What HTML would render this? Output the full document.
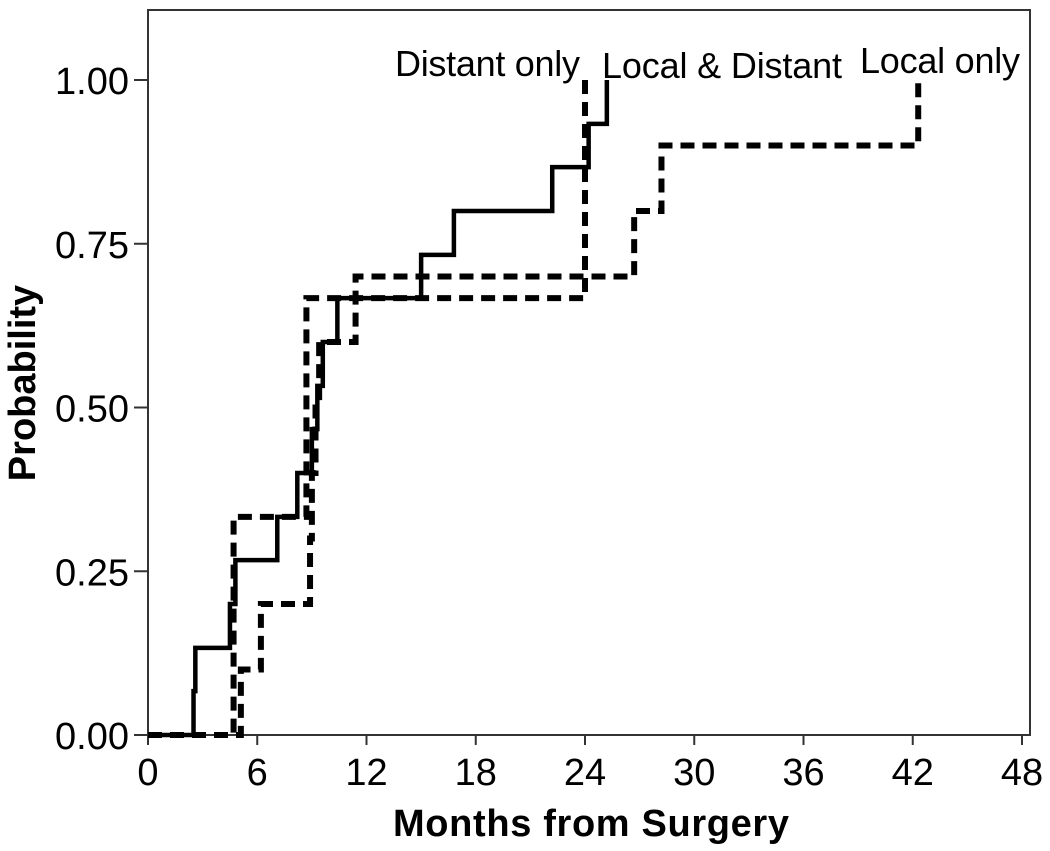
<!DOCTYPE html>
<html><head><meta charset="utf-8"><style>
body{margin:0;background:#fff}
svg{display:block;font-family:"Liberation Sans",Arial,sans-serif}
</style></head><body>
<svg id="chart" width="1050" height="851">
<rect x="148" y="10" width="882" height="725" fill="#fff" stroke="#333" stroke-width="2"/>
<g id="axes"></g>
<g id="series"></g>
<text x="591" y="836" font-size="38" font-weight="bold" text-anchor="middle" textLength="396">Months from Surgery</text>
<text transform="translate(35,383) rotate(-90)" font-size="38" font-weight="bold" text-anchor="middle">Probability</text>
<text x="395" y="76" font-size="36" textLength="185">Distant only</text>
<text x="602" y="78" font-size="36" textLength="240">Local &amp; Distant</text>
<text x="860" y="73" font-size="36" textLength="160">Local only</text>
</svg>
<script>
const xTicks=[0,6,12,18,24,30,36,42,48];
const yTicks=[0,0.25,0.5,0.75,1.0];
const yTickLabels=["0.00","0.25","0.50","0.75","1.00"];
const ldTimes=[0,2.5,2.6,4.5,4.8,7.1,8.2,9.0,9.3,9.6,10.4,15.0,16.8,22.2,24.2,25.2];
const ldVals=[0,0.067,0.133,0.2,0.267,0.333,0.4,0.467,0.533,0.6,0.667,0.733,0.8,0.867,0.933,1.0];
const doTimes=[0,4.7,8.7,24.0];
const doVals=[0,0.333,0.667,1.0];
const loTimes=[0,5.1,6.2,8.9,9.0,9.2,9.4,11.4,26.7,28.2,42.3];
const loVals=[0,0.1,0.2,0.3,0.4,0.5,0.6,0.7,0.8,0.9,1.0];
const X=t=>148+t*(1022-148)/48;
const Y=v=>735-v*655;
const NS="http://www.w3.org/2000/svg";
const axes=document.getElementById('axes');
xTicks.forEach(t=>{
 const l=document.createElementNS(NS,'line');
 l.setAttribute('x1',X(t));l.setAttribute('x2',X(t));l.setAttribute('y1',735);l.setAttribute('y2',745);
 l.setAttribute('stroke','#333');l.setAttribute('stroke-width',2);
 
 
 axes.appendChild(l);
 const tx=document.createElementNS(NS,'text');
 tx.setAttribute('x',X(t));tx.setAttribute('y',785);tx.setAttribute('font-size',38);tx.setAttribute('text-anchor','middle');
 tx.textContent=t;
 
 
 axes.appendChild(tx);
});
yTicks.forEach((v,i)=>{
 const l=document.createElementNS(NS,'line');
 l.setAttribute('x1',134);l.setAttribute('x2',148);l.setAttribute('y1',Y(v));l.setAttribute('y2',Y(v));
 l.setAttribute('stroke','#333');l.setAttribute('stroke-width',2);
 
 
 axes.appendChild(l);
 const tx=document.createElementNS(NS,'text');
 tx.setAttribute('x',129);tx.setAttribute('y',Y(v)+14);tx.setAttribute('font-size',38);tx.setAttribute('text-anchor','end');
 tx.textContent=yTickLabels[i];
 
 
 axes.appendChild(tx);
});
function stepPath(ts,vs){
 let d='M'+X(ts[0])+','+Y(vs[0]);
 for(let i=1;i<ts.length;i++){d+=' H'+X(ts[i])+' V'+Y(vs[i]);}
 return d;
}
const series=document.getElementById('series');
function draw(ts,vs,dash,w,name){
 const p=document.createElementNS(NS,'path');
 p.setAttribute('d',stepPath(ts,vs));p.setAttribute('fill','none');p.setAttribute('stroke','#000');
 p.setAttribute('stroke-width',w);if(dash)p.setAttribute('stroke-dasharray',dash);
 
 
 series.appendChild(p);
}
draw(loTimes,loVals,'14,8',6,'local-only-line');
draw(doTimes,doVals,'14,8',6,'distant-only-line');
draw(ldTimes,ldVals,null,4.5,'local-distant-line');
</script>
</body></html>
